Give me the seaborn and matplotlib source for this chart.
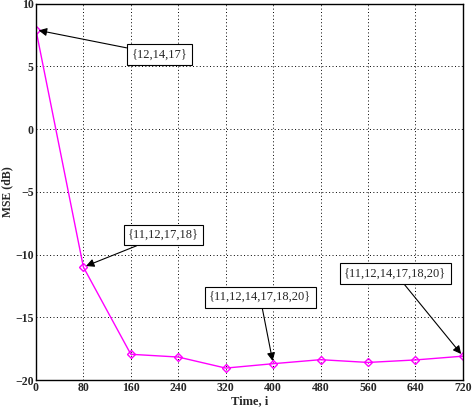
import numpy as np
import pandas as pd
import matplotlib
matplotlib.use("Agg")
import matplotlib.pyplot as plt
import seaborn as sns

# datos
tiempo = [0, 80, 160, 240, 320, 400, 480, 560, 640, 720]
mse_db = [7.9, -11.0, -17.95, -18.17, -19.05, -18.7, -18.38, -18.6, -18.4, -18.1]

x_ticks = [0, 80, 160, 240, 320, 400, 480, 560, 640, 720]
y_ticks = [-20, -15, -10, -5, 0, 5, 10]

# anotaciones: texto, punto (indice), posicion del cuadro
etiquetas = ["{12,14,17}", "{11,12,17,18}", "{11,12,14,17,18,20}", "{11,12,14,17,18,20}"]
idx_punto = [0, 1, 5, 9]
pos_texto = [(208, 5.95), (215, -8.45), (378, -13.4), (606, -11.5)]

df = pd.DataFrame({"Tiempo": tiempo, "MSE": mse_db})

sns.set_style("white")
plt.rcParams["font.family"] = ["Liberation Serif", "DejaVu Serif"]
plt.rcParams["axes.unicode_minus"] = True

fig = plt.figure(figsize=(4.73, 4.08), dpi=100)
ax = fig.add_axes([0.076, 0.0686, 0.9027, 0.9228])

sns.lineplot(data=df, x="Tiempo", y="MSE", ax=ax, color="#ff00ff",
             linewidth=1.0, marker="D", markersize=4.5,
             markerfacecolor="none", markeredgecolor="#ff00ff",
             markeredgewidth=1.0)

ax.set_xlim(0, 720)
ax.set_ylim(-20, 10)
ax.set_xticks(x_ticks)
ax.set_yticks(y_ticks)
ax.set_xticklabels([str(t) for t in x_ticks], fontweight="bold", fontsize=8.5)
ax.set_yticklabels([str(t).replace("-", "\u2212") for t in y_ticks],
                   fontweight="bold", fontsize=8.5)
ax.tick_params(direction="in", length=3, pad=1.5)

ax.grid(True, linestyle=(0, (1, 2.5)), color="black", linewidth=0.7)
for s in ax.spines.values():
    s.set_color("black")
    s.set_linewidth(1.0)

ax.set_xlabel("Time, i", fontweight="bold", fontsize=9)
ax.set_ylabel("MSE (dB)", fontweight="bold", fontsize=8.5)
ax.xaxis.set_label_coords(0.5, -0.04)
ax.yaxis.set_label_coords(-0.052, 0.5)

for txt, i, (tx, ty) in zip(etiquetas, idx_punto, pos_texto):
    ax.annotate(txt, xy=(tiempo[i], mse_db[i]), xytext=(tx, ty),
                ha="center", va="center", fontsize=9,
                bbox=dict(boxstyle="square,pad=0.35", fc="white", ec="black", lw=0.8),
                arrowprops=dict(arrowstyle="-|>", color="black", lw=0.8,
                                mutation_scale=12, shrinkA=0, shrinkB=2))

plt.savefig("out.png", dpi=100)
plt.close()
